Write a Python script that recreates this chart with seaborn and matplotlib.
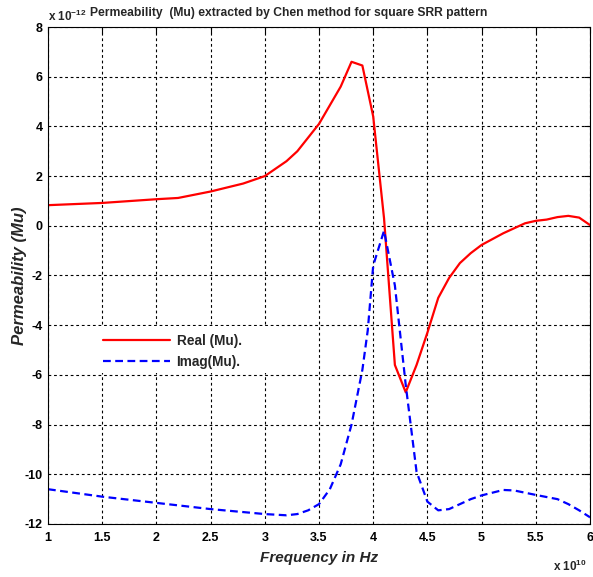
import matplotlib
matplotlib.use("Agg")
import matplotlib.pyplot as plt
from matplotlib.patches import Rectangle
import seaborn as sns
import pandas as pd

# Frequency in units of 1e10 Hz
real_freq = [1.0, 1.5, 2.0, 2.2, 2.5, 2.8, 3.0, 3.2, 3.3, 3.5, 3.7, 3.8, 3.9, 4.0, 4.1, 4.2, 4.3,
             4.4, 4.5, 4.6, 4.7, 4.8, 4.9, 5.0, 5.2, 5.4, 5.5, 5.6, 5.7, 5.8, 5.9, 6.0]
real_mu = [0.83, 0.92, 1.07, 1.12, 1.38, 1.7, 2.0, 2.6, 3.0, 4.1, 5.6, 6.6, 6.45, 4.4, 0.3, -5.6, -6.7,
           -5.6, -4.3, -2.9, -2.1, -1.5, -1.1, -0.77, -0.3, 0.1, 0.2, 0.25, 0.35, 0.4, 0.33, 0.03]

imag_freq = [1.0, 1.5, 2.0, 2.5, 3.0, 3.2, 3.3, 3.4, 3.5, 3.6, 3.7, 3.8, 3.9, 3.95, 4.0, 4.1, 4.2, 4.3,
             4.4, 4.5, 4.6, 4.7, 4.8, 4.9, 5.0, 5.2, 5.3, 5.5, 5.7, 5.8, 5.9, 6.0]
imag_mu = [-10.6, -10.9, -11.15, -11.4, -11.6, -11.65, -11.6, -11.45, -11.2, -10.6, -9.6, -8.0, -5.8, -4.2,
           -1.6, -0.2, -2.4, -6.4, -9.9, -11.1, -11.45, -11.4, -11.2, -11.0, -10.85, -10.63, -10.65,
           -10.83, -11.0, -11.2, -11.45, -11.73]

x_ticks = [1, 1.5, 2, 2.5, 3, 3.5, 4, 4.5, 5, 5.5, 6]
x_tick_labels = ["1", "1.5", "2", "2.5", "3", "3.5", "4", "4.5", "5", "5.5", "6"]
y_ticks = [-12, -10, -8, -6, -4, -2, 0, 2, 4, 6, 8]
y_tick_labels = ["-12", "-10", "-8", "-6", "-4", "-2", "0", "2", "4", "6", "8"]

sns.set_style("white")
fam = ["Liberation Sans", "DejaVu Sans"]
plt.rcParams['font.family'] = fam
plt.rcParams['mathtext.fontset'] = 'custom'
plt.rcParams['mathtext.rm'] = fam[0]
plt.rcParams['mathtext.bf'] = fam[0] + ':bold'

df_real = pd.DataFrame({"f": real_freq, "mu": real_mu})
df_imag = pd.DataFrame({"f": imag_freq, "mu": imag_mu})

fig = plt.figure(figsize=(5.93, 5.77), dpi=100)
ax = fig.add_axes([48/593, 53/577, 542/593, 497/577])

sns.lineplot(data=df_real, x="f", y="mu", ax=ax, color="#ff0000", linewidth=1.6,
             label="Real (Mu).", sort=False)
sns.lineplot(data=df_imag, x="f", y="mu", ax=ax, color="#0000ff", linewidth=1.6,
             label="Imag(Mu).", sort=False, linestyle=(0, (3.5, 2)))

ax.set_xlim(1, 6)
ax.set_ylim(-12, 8)
ax.set_xticks(x_ticks)
ax.set_xticklabels(x_tick_labels, fontsize=9, fontweight="bold")
ax.set_yticks(y_ticks)
ax.set_yticklabels(y_tick_labels, fontsize=9, fontweight="bold")
ax.tick_params(axis="x", pad=6)
ax.tick_params(axis="y", pad=4)
ax.tick_params(direction="in", length=4, width=0.8, top=True, right=True, colors="black")
ax.grid(True, linestyle=(0, (2.5, 2.5)), color="black", linewidth=0.8)
for s in ax.spines.values():
    s.set_color("black")
    s.set_linewidth(0.8)

# white legend background (no frame)
ax.add_patch(Rectangle((0.055, 0.304), 0.37, 0.094, transform=ax.transAxes,
                       facecolor="white", edgecolor="none", zorder=1))

ax.set_xlabel("Frequency in Hz", fontsize=11, fontweight="bold", style="italic", labelpad=5)
ax.set_ylabel("Permeability (Mu)", fontsize=12, fontweight="bold", style="italic", labelpad=-2)

leg = ax.legend(loc="center left", bbox_to_anchor=(0.1015, 0.347), frameon=False,
                prop={"size": 9.8, "weight": "bold"}, handlelength=4.9, handletextpad=0.5,
                labelspacing=0.5, borderaxespad=0, borderpad=0)

fig.text(48/593, 1 - 16/577, r"x 10$^{\mathbf{-12}}$", fontsize=8.5, fontweight="bold", ha="left", va="center")
fig.text(90/593, 1 - 13/577, "Permeability  (Mu) extracted by Chen method for square SRR pattern",
         fontsize=8.7, fontweight="bold", ha="left", va="center")
fig.text(587/593, 1 - 566/577, r"x 10$^{\mathbf{10}}$", fontsize=8.5, fontweight="bold", ha="right", va="center")

fig.savefig("out.png", dpi=100, facecolor="white")
